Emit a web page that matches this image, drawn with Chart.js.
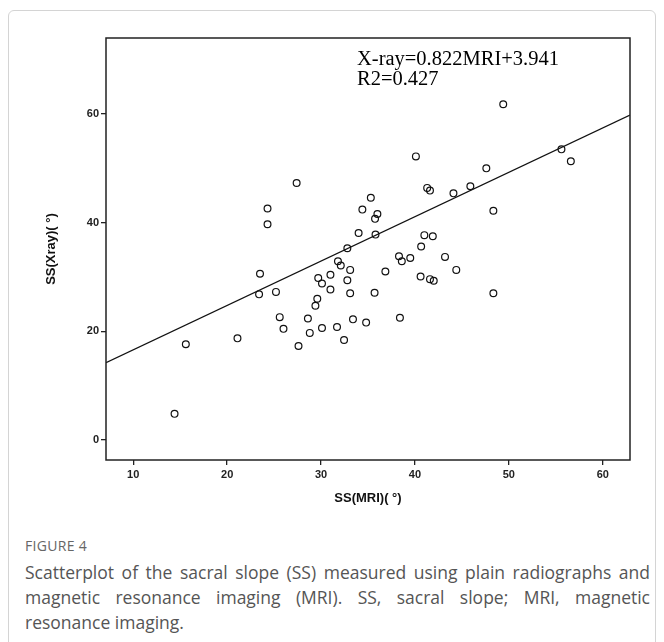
<!DOCTYPE html>
<html>
<head>
<meta charset="utf-8">
<script src="https://cdn.jsdelivr.net/npm/chart.js@4"></script>
<style>
  body { margin: 0; background: #fff; width: 664px; height: 642px; overflow: hidden; position: relative; font-family: "Open Sans", sans-serif; }
  #frame { position: absolute; left: 8px; top: 10px; width: 646px; height: 700px; border: 1px solid #d4d4d4; border-radius: 6px; }
  #wrap { position: absolute; left: 0; top: 0; width: 664px; height: 510px; }
  #fig { position: absolute; left: 25px; top: 536px; font-size: 14px; color: #666; letter-spacing: 0.3px; }
  #cap { position: absolute; left: 25px; top: 560px; width: 625px; font-size: 17.5px; line-height: 25px; color: #555; text-align: justify; }
</style>
</head>
<body>
<div id="frame"></div>
<div id="wrap"><canvas id="chart"></canvas></div>
<div id="fig">FIGURE 4</div>
<div id="cap">Scatterplot of the sacral slope (SS) measured using plain radiographs and magnetic resonance imaging (MRI). SS, sacral slope; MRI, magnetic resonance imaging.</div>
<script>
const mriSS = [49.4, 40.1, 55.6, 56.6, 47.6, 27.4, 35.3, 41.3, 41.6, 45.9, 44.1, 24.3, 24.3, 34.4, 36.0, 35.75,
  48.35, 34.0, 35.8, 41.0, 41.9, 40.66, 32.8, 38.3, 38.6, 39.5, 43.2, 31.8, 32.1, 33.1, 36.85, 44.4,
  23.5, 29.7, 31.0, 32.8, 30.1, 40.6, 41.6, 42.0, 31.0, 23.4, 25.2, 33.1, 35.7, 48.35, 29.6, 29.4,
  25.6, 28.6, 33.4, 38.4, 26.0, 30.1, 31.7, 34.8, 28.8, 32.45, 27.6, 21.1, 15.6, 14.4];
const xraySS = [61.8, 52.2, 53.5, 51.3, 50.0, 47.3, 44.6, 46.4, 45.9, 46.7, 45.4, 42.6, 39.7, 42.4, 41.6, 40.7,
  42.2, 38.1, 37.8, 37.7, 37.5, 35.6, 35.3, 33.8, 32.9, 33.5, 33.7, 32.9, 32.1, 31.3, 31.0, 31.3,
  30.6, 29.8, 30.4, 29.4, 28.8, 30.1, 29.6, 29.3, 27.7, 26.8, 27.25, 27.0, 27.1, 27.0, 26.0, 24.7,
  22.6, 22.35, 22.2, 22.5, 20.45, 20.6, 20.8, 21.6, 19.7, 18.4, 17.3, 18.7, 17.6, 4.8];

// fitted line as drawn, ends at the axis limits
const fitX = [7.1, 62.9];
const fitY = [14.2, 59.8];

const xTicks = [10, 20, 30, 40, 50, 60];
const yTicks = [0, 20, 40, 60];
const eqLines = ['X-ray=0.822MRI+3.941', 'R2=0.427'];

const boxAndText = {
  id: 'boxAndText',
  afterDatasetsDraw(chart) {
    const { ctx, chartArea: a } = chart;
    ctx.save();
    ctx.strokeStyle = '#222';
    ctx.lineWidth = 1.5;
    ctx.strokeRect(a.left, a.top, a.right - a.left, a.bottom - a.top);
    ctx.fillStyle = '#000';
    ctx.font = '20.5px "Liberation Serif"';
    ctx.textBaseline = 'alphabetic';
    ctx.fillText(eqLines[0], 357, 65);
    ctx.fillText(eqLines[1], 357, 85);
    ctx.restore();
  }
};

const tickFont = { family: '"Liberation Sans", Arial', size: 11, weight: 'bold' };
const titleFont = { family: '"Liberation Sans", Arial', size: 13, weight: 'bold' };

new Chart(document.getElementById('chart'),
  {
    type: 'scatter',
    data:
    {
      datasets:
      [
        {
          data: mriSS.map((v, i) => ({ x: v, y: xraySS[i] })),
          pointStyle: 'circle',
          pointRadius: 3.4,
          pointHoverRadius: 3.4,
          borderColor: '#111',
          borderWidth: 1.2,
          backgroundColor: 'rgba(0,0,0,0)'
        },
        {
          type: 'line',
          data: fitX.map((v, i) => ({ x: v, y: fitY[i] })),
          borderColor: '#111',
          borderWidth: 1.3,
          pointRadius: 0,
          fill: false
        }
      ]
    },
    options:
    {
      responsive: true,
      maintainAspectRatio: false,
      animation: false,
      events: [],
      layout: { padding: { left: 0, top: 38, right: 34, bottom: 0 } },
      plugins: { legend: { display: false }, tooltip: { enabled: false } },
      scales:
      {
        x: {
          type: 'linear',
          min: 7.1, max: 62.9,
          afterBuildTicks: (axis) => { axis.ticks = xTicks.map(v => ({ value: v })); },
          afterFit: (axis) => { axis.height = 50; },
          grid: { drawOnChartArea: false, drawTicks: true, tickLength: 5, color: '#222', lineWidth: 1.3 },
          border: { display: false },
          ticks: { color: '#222', font: tickFont, padding: 3, maxRotation: 0 },
          title: { display: true, text: 'SS(MRI)( °)', color: '#111', font: titleFont, padding: { top: 0, bottom: 4 } }
        },
        y: {
          type: 'linear',
          min: -3.7, max: 74,
          afterBuildTicks: (axis) => { axis.ticks = yTicks.map(v => ({ value: v })); },
          afterFit: (axis) => { axis.width = 106; },
          grid: { drawOnChartArea: false, drawTicks: true, tickLength: 5, color: '#222', lineWidth: 1.3 },
          border: { display: false },
          ticks: { color: '#222', font: tickFont, padding: 2 },
          title: { display: true, text: 'SS(Xray)( °)', color: '#111', font: titleFont, padding: { top: 44, bottom: 0 } }
        }
      }
    },
    plugins: [boxAndText]
  });
</script>
</body>
</html>
